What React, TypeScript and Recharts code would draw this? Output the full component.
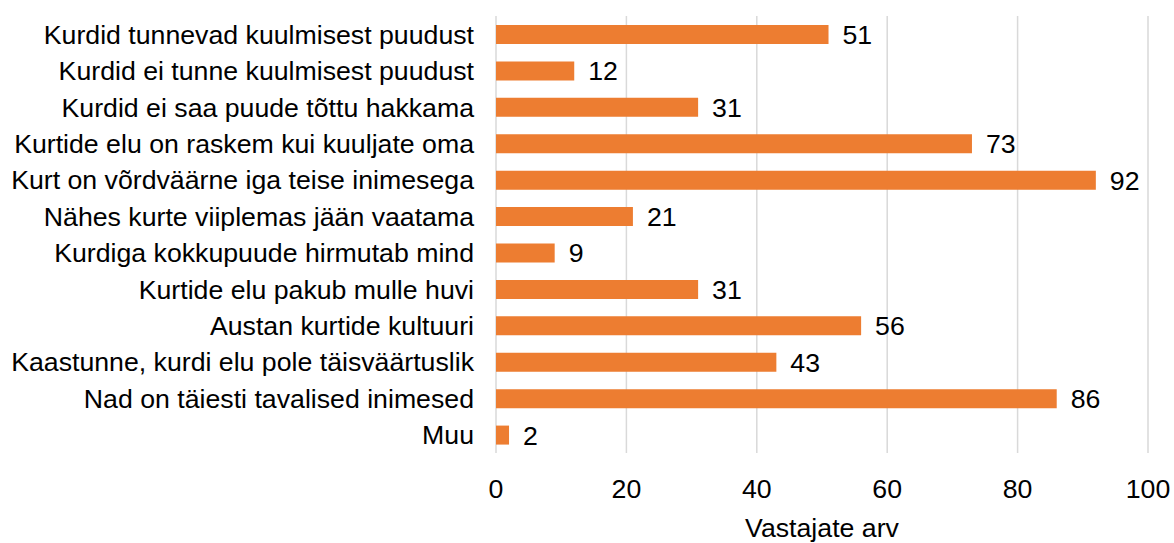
import React from 'react';
import { BarChart, Bar, XAxis, YAxis, CartesianGrid, LabelList } from 'recharts';

const categories: string[] = [
  'Kurdid tunnevad kuulmisest puudust',
  'Kurdid ei tunne kuulmisest puudust',
  'Kurdid ei saa puude tõttu hakkama',
  'Kurtide elu on raskem kui kuuljate oma',
  'Kurt on võrdväärne iga teise inimesega',
  'Nähes kurte viiplemas jään vaatama',
  'Kurdiga kokkupuude hirmutab mind',
  'Kurtide elu pakub mulle huvi',
  'Austan kurtide kultuuri',
  'Kaastunne, kurdi elu pole täisväärtuslik',
  'Nad on täiesti tavalised inimesed',
  'Muu',
];

const counts: number[] = [51, 12, 31, 73, 92, 21, 9, 31, 56, 43, 86, 2];

const xTicks: number[] = [0, 20, 40, 60, 80, 100];

const data = categories.map((name, i) => ({ name, value: counts[i] }));

const font = 'Liberation Sans, Arial, sans-serif';
const fs = 26.7;

const App: React.FC = () => {
  return (
    <div style={{ position: 'absolute', left: 0, top: 0, width: 1174, height: 543, background: '#fff' }}>
      <BarChart
        width={1174}
        height={543}
        data={data}
        layout="vertical"
        margin={{ top: 16, right: 26, bottom: 0, left: 0 }}
        style={{ fontFamily: font }}
      >
        <CartesianGrid horizontal={false} stroke="#d9d9d9" strokeWidth={1.5} />
        <XAxis
          type="number"
          domain={[0, 100]}
          ticks={xTicks}
          height={90}
          axisLine={false}
          tickLine={false}
          tickSize={0}
          tickMargin={26}
          tick={{ fontSize: fs, fill: '#000', fontFamily: font }}
          label={{ value: 'Vastajate arv', position: 'insideBottom', offset: 6, fontSize: fs, fill: '#000', fontFamily: font }}
        />
        <YAxis
          type="category"
          dataKey="name"
          width={496}
          axisLine={false}
          tickLine={false}
          tickSize={0}
          tickMargin={22}
          interval={0}
          tick={{ fontSize: fs, fill: '#000', fontFamily: font }}
        />
        <Bar dataKey="value" fill="#ed7d31" barSize={19} isAnimationActive={false}>
          <LabelList dataKey="value" position="right" offset={14} fontSize={fs} fill="#000" fontFamily={font} />
        </Bar>
      </BarChart>
    </div>
  );
};

export default App;
